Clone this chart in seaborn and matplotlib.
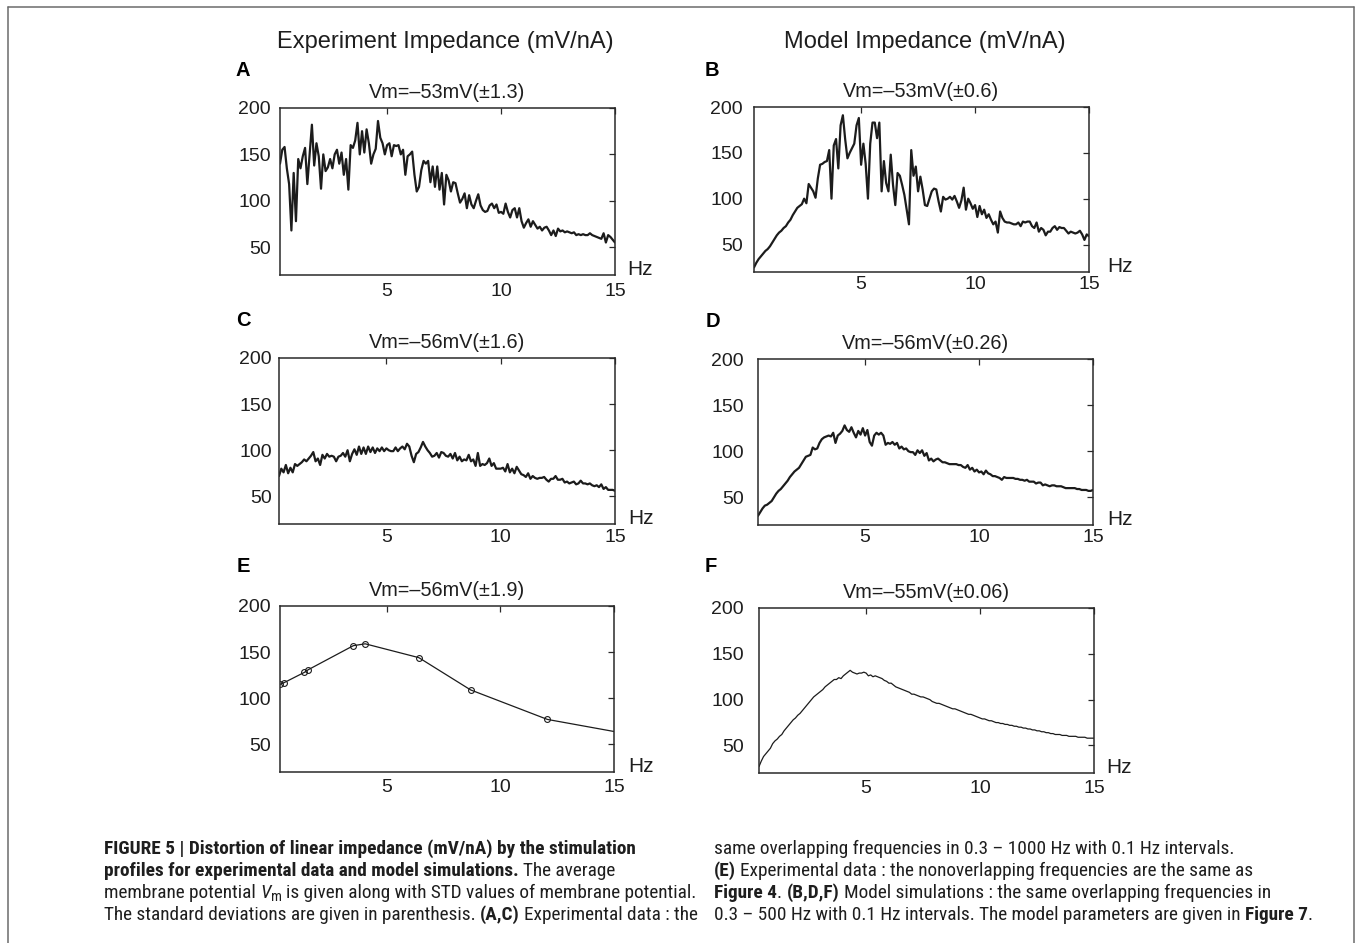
import numpy as np
import pandas as pd
import matplotlib
matplotlib.use("Agg")
import matplotlib.pyplot as plt
from matplotlib.lines import Line2D
from matplotlib import font_manager as fm
import seaborn as sns

# ---------------------------------------------------------------- data
# frequency grid: 0.3 ... 15.0 Hz in 0.1 Hz steps
freq = np.round(np.arange(3, 151) / 10, 1)

# A: experiment, Vm = -53 mV
imp_a = [140, 155, 158, 135, 118, 68, 130, 78, 145, 135,
         148, 157, 118, 150, 182, 138, 162, 148, 113, 150,
         132, 136, 145, 135, 150, 155, 140, 152, 128, 145,
         112, 160, 157, 165, 184, 150, 175, 152, 177, 162,
         140, 150, 156, 186, 168, 162, 150, 160, 162, 148,
         160, 159, 160, 150, 155, 128, 148, 150, 153, 128,
         110, 115, 133, 143, 140, 143, 120, 137, 115, 137,
         112, 130, 96, 128, 122, 110, 120, 119, 108, 98,
         102, 108, 92, 106, 96, 92, 100, 107, 95, 90,
         88, 89, 95, 97, 92, 96, 87, 88, 86, 97,
         88, 82, 90, 92, 82, 92, 78, 71, 76, 80,
         72, 78, 74, 70, 72, 68, 71, 72, 68, 63,
         68, 62, 70, 67, 68, 66, 67, 66, 65, 66,
         63, 64, 63, 64, 63, 63, 65, 63, 62, 61,
         60, 59, 65, 55, 63, 61, 58, 55]

# B: model, Vm = -53 mV
imp_b = [25, 30, 34, 37, 40, 43, 45, 48, 52, 56,
         60, 63, 65, 68, 70, 74, 77, 82, 86, 90,
         92, 94, 100, 95, 116, 112, 108, 101, 122, 137,
         138, 140, 141, 153, 100, 158, 165, 133, 180, 191,
         165, 144, 150, 155, 160, 180, 188, 137, 160, 138,
         100, 160, 183, 183, 166, 183, 108, 141, 117, 108,
         148, 115, 93, 128, 125, 115, 104, 88, 72, 153,
         125, 135, 108, 124, 110, 93, 92, 100, 108, 111,
         110, 97, 86, 102, 99, 100, 102, 99, 103, 97,
         90, 98, 112, 88, 100, 95, 89, 93, 80, 92,
         83, 88, 79, 83, 77, 72, 75, 63, 86, 79,
         75, 74, 74, 73, 72, 72, 74, 70, 75, 74,
         75, 75, 70, 68, 74, 64, 68, 66, 60, 64,
         64, 68, 70, 66, 69, 68, 68, 65, 62, 64,
         63, 62, 63, 65, 61, 55, 61, 59]

# C: experiment, Vm = -56 mV
imp_c = [72, 80, 76, 84, 75, 81, 76, 85, 83, 85,
         87, 90, 88, 91, 94, 98, 88, 91, 84, 95,
         91, 96, 93, 94, 93, 88, 93, 94, 97, 93,
         100, 88, 96, 101, 95, 104, 96, 103, 96, 104,
         98, 103, 97, 102, 99, 103, 99, 102, 100, 99,
         99, 103, 99, 102, 104, 101, 107, 104, 94, 87,
         96, 98, 103, 109, 104, 100, 97, 93, 94, 97,
         92, 98, 97, 94, 93, 96, 91, 97, 89, 93,
         88, 90, 89, 95, 88, 90, 83, 97, 83, 85,
         84, 86, 91, 83, 86, 80, 80, 80, 81, 77,
         85, 76, 80, 75, 82, 78, 74, 73, 71, 75,
         69, 72, 70, 69, 70, 70, 71, 68, 66, 69,
         69, 72, 68, 68, 69, 65, 66, 64, 65, 66,
         63, 64, 67, 64, 64, 63, 64, 62, 61, 62,
         60, 63, 58, 60, 57, 57, 57, 56]

# D: model, Vm = -56 mV
imp_d = [30, 34, 38, 41, 42, 44, 46, 50, 54, 57,
         59, 62, 65, 68, 72, 75, 78, 80, 82, 86,
         90, 94, 95, 96, 104, 102, 103, 109, 113, 115,
         116, 117, 116, 120, 109, 117, 119, 122, 128, 123,
         121, 126, 120, 115, 122, 118, 125, 117, 123, 110,
         106, 117, 120, 118, 120, 117, 107, 109, 108, 110,
         107, 109, 103, 105, 102, 103, 100, 99, 99, 96,
         101, 98, 101, 95, 98, 90, 92, 89, 91, 92,
         90, 88, 88, 87, 86, 86, 86, 86, 85, 85,
         83, 82, 85, 80, 82, 78, 80, 77, 78, 75,
         79, 76, 75, 73, 73, 72, 71, 69, 72, 71,
         71, 71, 71, 70, 70, 69, 69, 68, 69, 67,
         67, 67, 65, 66, 66, 63, 64, 63, 62, 63,
         63, 62, 62, 62, 61, 60, 60, 60, 60, 60,
         59, 59, 58, 58, 58, 57, 57, 58]

# E: experiment with non-overlapping stimulation frequencies
freq_e = [0.3, 0.49, 1.37, 1.55, 3.53, 4.05, 6.41, 8.69, 12.07, 17.0]
imp_e = [115, 117, 128, 131, 157, 159, 144, 109, 77, 55]

# F: model, Vm = -55 mV
imp_f = [27, 33, 38, 41, 44, 47, 52, 55, 57, 60,
         62, 66, 69, 72, 75, 78, 80, 83, 85, 88,
         91, 94, 97, 100, 103, 105, 107, 109, 111, 114,
         116, 118, 120, 122, 122, 124, 123, 126, 128, 130,
         132, 130, 129, 128, 129, 129, 130, 129, 126, 127,
         125, 126, 125, 124, 123, 121, 120, 118, 118, 116,
         114, 113, 112, 111, 110, 109, 108, 106, 106, 105,
         104, 103, 103, 102, 101, 100, 98, 97, 96, 96,
         95, 94, 93, 92, 91, 90, 90, 89, 88, 87,
         86, 85, 84, 84, 83, 82, 81, 80, 79, 79,
         78, 77, 77, 76, 75, 75, 74, 74, 73, 73,
         72, 72, 71, 71, 70, 70, 69, 69, 68, 68,
         67, 67, 66, 66, 65, 65, 64, 64, 63, 63,
         62, 62, 62, 61, 61, 61, 60, 60, 60, 60,
         59, 59, 59, 59, 58, 58, 58, 58]

letters = ["A", "B", "C", "D", "E", "F"]
titles = ["Vm=–53mV(±1.3)", "Vm=–53mV(±0.6)", "Vm=–56mV(±1.6)",
          "Vm=–56mV(±0.26)", "Vm=–56mV(±1.9)", "Vm=–55mV(±0.06)"]
column_heads = ["Experiment Impedance (mV/nA)", "Model Impedance (mV/nA)"]
x_ticks = [5, 10, 15]
y_ticks = [50, 100, 150, 200]

# ---------------------------------------------------------------- style
W, H = 1355, 943
sns.set_theme(style="white")
plt.rcParams["font.family"] = ["Liberation Sans", "DejaVu Sans"]
INK = "#1c1c1c"
TXT = "#1e1e1e"
PX = 100 / 72  # pixels per point

fig = plt.figure(figsize=(W / 100, H / 100), dpi=100)
fig.patch.set_facecolor("white")


def axes_px(l, t, r, b):
    return fig.add_axes([l / W, 1 - b / H, (r - l) / W, (b - t) / H])


# panel boxes in pixels (left, top, right, bottom) and small per-panel details
panels = [
    dict(box=(280, 108, 615, 275), x=freq, y=imp_a, lw=1.6, xpad=8, ypad=9, hz=12, letter=(236, 76)),
    dict(box=(754, 107, 1089, 272), x=freq, y=imp_b, lw=1.6, xpad=4, ypad=11, hz=18, letter=(705, 76)),
    dict(box=(279, 358, 615, 524), x=freq, y=imp_c, lw=1.6, xpad=5, ypad=7, hz=13, letter=(236, 326)),
    dict(box=(758, 359, 1093, 525), x=freq, y=imp_d, lw=1.6, xpad=4, ypad=14, hz=14, letter=(706, 327)),
    dict(box=(280, 606, 614, 772), x=freq_e, y=imp_e, lw=0.9, xpad=7, ypad=9, hz=14, letter=(237, 572)),
    dict(box=(759, 608, 1094, 773), x=freq, y=imp_f, lw=0.9, xpad=7, ypad=15, hz=12, letter=(705, 572)),
]

for k, p in enumerate(panels):
    ax = axes_px(*p["box"])
    df = pd.DataFrame({"Hz": p["x"], "Z": p["y"]})
    if k == 4:
        sns.lineplot(data=df, x="Hz", y="Z", ax=ax, color=INK, linewidth=p["lw"],
                     estimator=None, marker="o", markersize=4.2,
                     markerfacecolor="none", markeredgecolor=INK, markeredgewidth=0.8)
    else:
        sns.lineplot(data=df, x="Hz", y="Z", ax=ax, color=INK, linewidth=p["lw"],
                     estimator=None)
    ax.set_xlim(0.3, 15)
    ax.set_ylim(20, 200)
    ax.set_xticks(x_ticks)
    ax.set_yticks(y_ticks)
    ax.set_xlabel("")
    ax.set_ylabel("")
    ax.set_facecolor("white")
    for s in ax.spines.values():
        s.set_visible(True)
        s.set_color("#2a2a2a")
        s.set_linewidth(1.1)
    ax.tick_params(direction="in", top=True, right=True, length=4, width=0.9,
                   color="#2a2a2a", labelsize=14, labelcolor=TXT)
    ax.tick_params(axis="x", pad=p["xpad"] / PX)
    ax.tick_params(axis="y", pad=p["ypad"] / PX)
    ax.set_title(titles[k], fontsize=14.3, color=TXT, pad=7)
    ax.annotate("Hz", xy=(1, 0), xycoords="axes fraction",
                xytext=(p["hz"] / PX, 0), textcoords="offset points",
                ha="left", va="baseline", fontsize=15, color=TXT)
    lx, ly = p["letter"]
    fig.text(lx / W, 1 - ly / H, letters[k], fontsize=14.5, fontweight="bold",
             color="black", ha="left", va="baseline")

fig.text(445 / W, 1 - 48 / H, column_heads[0], fontsize=17, color=TXT,
         ha="center", va="baseline")
fig.text(925 / W, 1 - 48 / H, column_heads[1], fontsize=17, color=TXT,
         ha="center", va="baseline")

# frame around the figure (open at the bottom)
frame = dict(color="#6b6b6b", linewidth=1.1, transform=fig.transFigure)
fig.add_artist(Line2D([8 / W, 1353.5 / W], [1 - 7 / H, 1 - 7 / H], **frame))
fig.add_artist(Line2D([8 / W, 8 / W], [1 - 7 / H, 0], **frame))
fig.add_artist(Line2D([1353.5 / W, 1353.5 / W], [1 - 7 / H, 0], **frame))

# ---------------------------------------------------------------- caption
def has_font(name):
    try:
        fm.findfont(fm.FontProperties(family=name), fallback_to_default=False)
        return True
    except ValueError:
        return False


cap_family = "Liberation Sans"
for cand in ["Liberation Sans Narrow", "Roboto Condensed", "Open Sans Condensed"]:
    if has_font(cand):
        cap_family = cand
        break

renderer = fig.canvas.get_renderer()


def run_width(s, size, weight="normal", style="normal"):
    t = fig.text(0, 0, s, fontsize=size, fontweight=weight, fontstyle=style,
                 family=[cap_family, "DejaVu Sans"])
    w = t.get_window_extent(renderer).width
    t.remove()
    return w


# size chosen so the bold first line spans its column
cap_size = 12 * 532 / run_width(
    "FIGURE 5 | Distortion of linear impedance (mV/nA) by the stimulation", 12, "bold")


def caption_line(x, y, parts):
    for s, weight, style, scale, dy in parts:
        lead = len(s) - len(s.lstrip(" "))
        if lead:
            sp = run_width("n n", cap_size * scale, weight) - run_width("nn", cap_size * scale, weight)
            x += lead * sp
        s = s.lstrip(" ")
        t = fig.text(x / W, 1 - (y + dy) / H, s, fontsize=cap_size * scale,
                     fontweight=weight, fontstyle=style, color=TXT,
                     family=[cap_family, "DejaVu Sans"], ha="left", va="baseline")
        x += t.get_window_extent(renderer).width


R, B, I = "normal", "bold", "italic"
left_x, right_x = 104, 714
rows_y = [854, 876, 898, 920]
caption_line(left_x, rows_y[0], [
    ("FIGURE 5 | Distortion of linear impedance (mV/nA) by the stimulation", B, R, 1, 0)])
caption_line(left_x, rows_y[1], [
    ("profiles for experimental data and model simulations.", B, R, 1, 0),
    (" The average", R, R, 1, 0)])
caption_line(left_x, rows_y[2], [
    ("membrane potential", R, R, 1, 0),
    (" V", R, I, 1, 0),
    ("m", R, R, 0.75, 3),
    (" is given along with STD values of membrane potential.", R, R, 1, 0)])
caption_line(left_x, rows_y[3], [
    ("The standard deviations are given in parenthesis.", R, R, 1, 0),
    (" (A,C)", B, R, 1, 0),
    (" Experimental data : the", R, R, 1, 0)])
caption_line(right_x, rows_y[0], [
    ("same overlapping frequencies in 0.3 – 1000 Hz with 0.1 Hz intervals.", R, R, 1, 0)])
caption_line(right_x, rows_y[1], [
    ("(E)", B, R, 1, 0),
    (" Experimental data : the nonoverlapping frequencies are the same as", R, R, 1, 0)])
caption_line(right_x, rows_y[2], [
    ("Figure 4", B, R, 1, 0),
    (".", R, R, 1, 0),
    (" (B,D,F)", B, R, 1, 0),
    (" Model simulations : the same overlapping frequencies in", R, R, 1, 0)])
caption_line(right_x, rows_y[3], [
    ("0.3 – 500 Hz with 0.1 Hz intervals. The model parameters are given in", R, R, 1, 0),
    (" Figure 7", B, R, 1, 0),
    (".", R, R, 1, 0)])

fig.savefig("out.png", dpi=100, facecolor="white")
